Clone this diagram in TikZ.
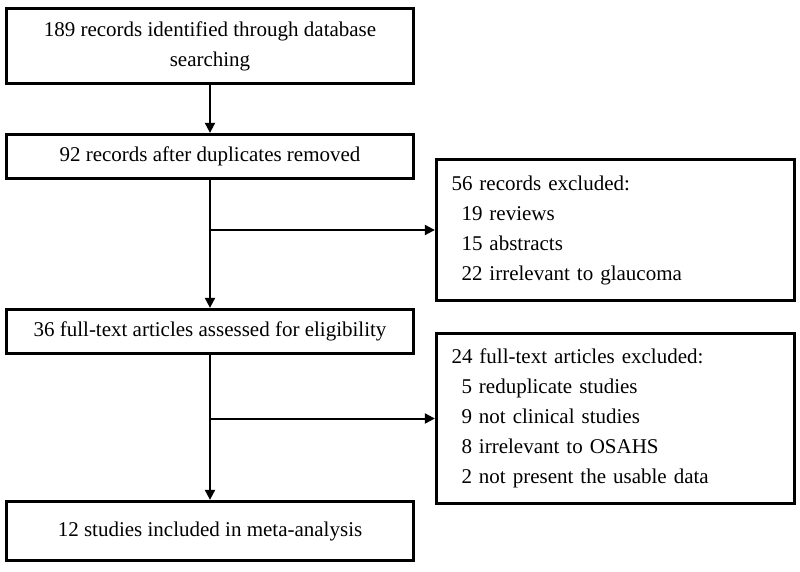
\documentclass[tikz,border=0pt]{standalone}
\usepackage{fontspec}
\setmainfont{Liberation Serif}
\usetikzlibrary{arrows.meta, positioning, calc}

\begin{document}
\begin{tikzpicture}[x=1pt, y=-1pt,
    box/.style={draw, rectangle, line width=3.3pt, font=\fontsize{21}{30}\selectfont},
    mainbox/.style={box, minimum width=407pt, align=center},
    sidebox/.style={box, minimum width=358pt, text width=328pt, inner xsep=0pt, align=left},
    arr/.style={-{Triangle[length=10pt,width=10pt]}, line width=2pt}]
      \useasboundingbox (0,0) rectangle (800,571);
      \node[mainbox, minimum height=75pt] (records) at (210,46) {189 records identified through database\\searching};
      \node[mainbox, minimum height=44pt] (dedup) at (210,156.5) {92 records after duplicates removed};
      \node[sidebox, minimum height=141pt] (excl1) at (615.5,230) {
        56 records excluded:\\
        \hspace*{10pt}19 reviews\\
        \hspace*{10pt}15 abstracts\\
        \hspace*{10pt}22 irrelevant to glaucoma
      };
      \node[mainbox, minimum height=44pt] (fulltext) at (210,331.5) {36 full-text articles assessed for eligibility};
      \node[sidebox, minimum height=170pt] (excl2) at (615.5,418.5) {
        24 full-text articles excluded:\\
        \hspace*{10pt}5 reduplicate studies\\
        \hspace*{10pt}9 not clinical studies\\
        \hspace*{10pt}8 irrelevant to OSAHS\\
        \hspace*{10pt}2 not present the usable data
      };
      \node[mainbox, minimum height=59pt] (included) at (210,531) {12 studies included in meta-analysis};
      \draw[arr] (records) -- (dedup);
      \draw[arr] (dedup) -- (fulltext);
      \draw[arr] (fulltext) -- (included);
      \draw[arr] (dedup.south |- excl1.west) -- (excl1.west);
      \draw[arr] (fulltext.south |- excl2.west) -- (excl2.west);
    \end{tikzpicture}
\end{document}
